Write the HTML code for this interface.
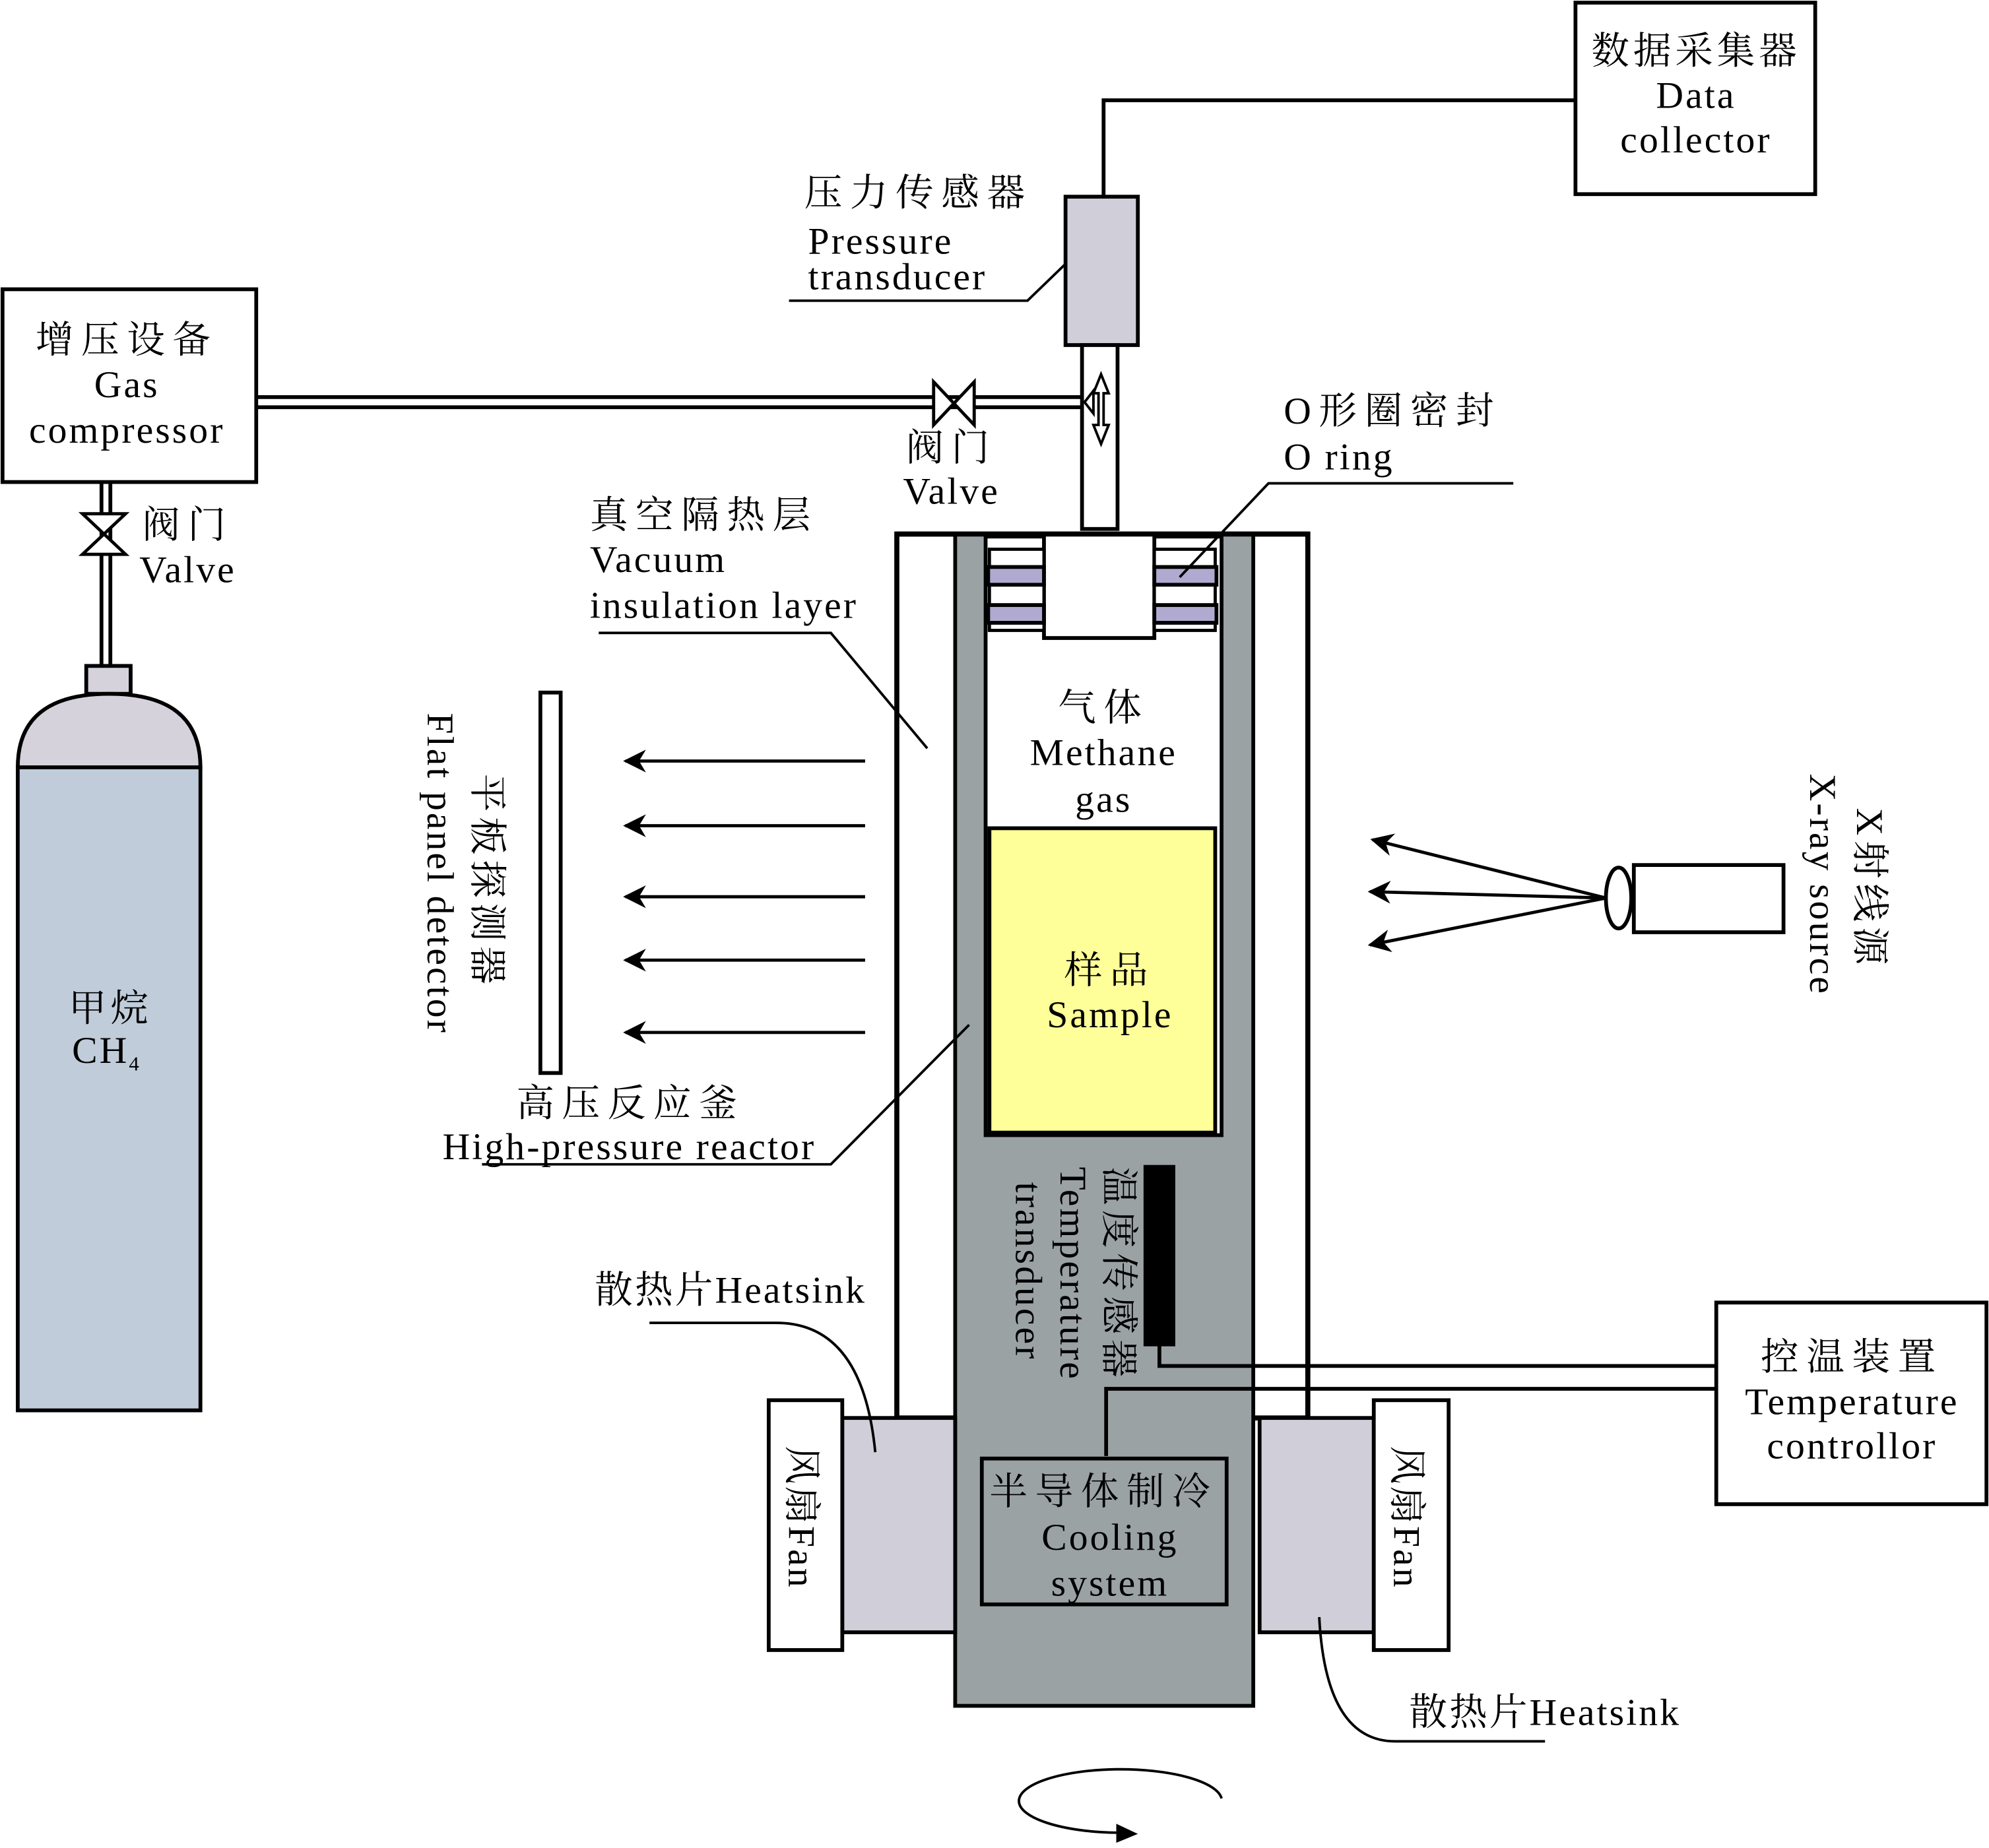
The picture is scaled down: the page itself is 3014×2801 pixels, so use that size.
<!DOCTYPE html>
<html><head><meta charset="utf-8"><style>html,body{margin:0;padding:0;background:#fff}svg{display:block}</style></head>
<body>
<svg width="3014" height="2801" viewBox="0 0 1568 1457" xmlns="http://www.w3.org/2000/svg" font-family="'Liberation Serif','Noto Serif CJK SC',serif" font-size="30" fill="none" stroke="#000" stroke-width="3">
<defs>
<marker id="ah" viewBox="0 0 10 10" refX="9" refY="5" markerWidth="24" markerHeight="18" orient="auto" markerUnits="userSpaceOnUse"><path d="M0,0 L10,5 L0,10 L3,5 z" fill="#000" stroke="none"/></marker>
</defs>
<rect x="1242" y="2" width="189" height="151" fill="#fff"/>
<polyline points="1242,79 870,79 870,155"/>
<rect x="840" y="155" width="57" height="117" fill="#d0ced9"/>
<polyline points="622,237 810,237 840,208" stroke-width="2"/>
<rect x="853" y="272" width="28" height="145" fill="#fff"/>
<path d="M868,295 L862,310 L866,310 L866,335 L862,335 L868,350 L874,335 L870,335 L870,310 L874,310 Z" fill="#fff" stroke-width="2"/>
<path d="M855,317 L862,308 L862,326 Z" fill="#fff" stroke-width="2"/>
<line x1="203" y1="313" x2="853" y2="313"/>
<line x1="203" y1="321" x2="853" y2="321"/>
<path d="M736,301 L768,335 L768,301 L736,335 Z" fill="#fff" stroke-width="2.5"/>
<rect x="2" y="228" width="200" height="152" fill="#fff"/>
<line x1="80" y1="380" x2="80" y2="525"/>
<line x1="87" y1="380" x2="87" y2="525"/>
<path d="M65,405 L99,437 L65,437 L99,405 Z" fill="#fff" stroke-width="2.5"/>
<rect x="68" y="525" width="35" height="22" fill="#d6d2dc"/>
<path d="M14,605 Q14,547 86,547 Q158,547 158,605 Z" fill="#d6d2dc"/>
<rect x="14" y="605" width="144" height="507" fill="#c0ccda"/>
<rect x="707" y="421" width="324" height="697" fill="#fff" stroke-width="4"/>
<rect x="753" y="421" width="235" height="924" fill="#9ba2a4" stroke-width="3"/>
<rect x="777" y="423" width="186" height="472" fill="#fff"/>
<rect x="780" y="653" width="178" height="240" fill="#ffff99" stroke-width="3"/>
<rect x="823" y="421" width="87" height="82" fill="#fff"/>
<rect x="780" y="433" width="43" height="64" fill="#fff" stroke-width="2.5"/>
<rect x="910" y="433" width="48" height="64" fill="#fff" stroke-width="2.5"/>
<rect x="779" y="447" width="44" height="14" fill="#b0aad0" stroke-width="3"/>
<rect x="779" y="477" width="44" height="14" fill="#b0aad0" stroke-width="3"/>
<rect x="910" y="447" width="49" height="14" fill="#b0aad0" stroke-width="3"/>
<rect x="910" y="477" width="49" height="14" fill="#b0aad0" stroke-width="3"/>
<line x1="707" y1="421" x2="1031" y2="421" stroke-width="4"/>
<rect x="664" y="1118" width="89" height="169" fill="#d0ced9"/>
<rect x="606" y="1104" width="58" height="197" fill="#fff"/>
<rect x="993" y="1118" width="90" height="169" fill="#d0ced9"/>
<rect x="1083" y="1104" width="59" height="197" fill="#fff"/>
<rect x="774" y="1150" width="193" height="115" fill="#9ba2a4"/>
<rect x="903" y="920" width="22" height="140" fill="#000"/>
<polyline points="914,1060 914,1077 1352,1077"/>
<polyline points="872,1148 872,1095 1352,1095"/>
<rect x="1353" y="1027" width="213" height="159" fill="#fff"/>
<rect x="426" y="546" width="16" height="300" fill="#fff"/>
<g marker-end="url(#ah)" stroke-width="2.5">
<line x1="682" y1="600" x2="493" y2="600"/>
<line x1="682" y1="651" x2="493" y2="651"/>
<line x1="682" y1="707" x2="493" y2="707"/>
<line x1="682" y1="757" x2="493" y2="757"/>
<line x1="682" y1="814" x2="493" y2="814"/>
<line x1="1266" y1="708" x2="1082" y2="662"/>
<line x1="1266" y1="708" x2="1080" y2="703"/>
<line x1="1266" y1="708" x2="1080" y2="745"/>
</g>
<rect x="1288" y="682" width="118" height="53" fill="#fff"/>
<ellipse cx="1276" cy="708" rx="10" ry="24" fill="#fff"/>
<g stroke-width="2">
<polyline points="1193,381 1000,381 930,455"/>
<polyline points="472,499 655,499 731,590"/>
<polyline points="380,918 655,918 764,808"/>
<path d="M512,1043 L612,1043 Q680,1043 690,1145"/>
<path d="M1218,1373 L1100,1373 Q1045,1373 1040,1275"/>
<path d="M963,1418 A80,25 0 1 0 880,1445" />
</g>
<path d="M880,1438 L897,1446 L880,1453 Z" fill="#000" stroke="none"/>
<g fill="#000" stroke="none" text-anchor="middle" letter-spacing="1.6">
<text x="1337" y="50" letter-spacing="3">数据采集器</text>
<text x="1337" y="85">Data</text>
<text x="1337" y="120">collector</text>
<text x="724" y="162" letter-spacing="6">压力传感器</text>
<text x="637" y="200" text-anchor="start">Pressure</text>
<text x="637" y="228" text-anchor="start">transducer</text>
<text x="100" y="278" letter-spacing="6">增压设备</text>
<text x="100" y="313">Gas</text>
<text x="100" y="349">compressor</text>
<text x="750" y="363" letter-spacing="6">阀门</text>
<text x="750" y="397">Valve</text>
<text x="148" y="424" letter-spacing="6">阀门</text>
<text x="148" y="459">Valve</text>
<text x="1012" y="334" text-anchor="start" letter-spacing="6">O形圈密封</text>
<text x="1012" y="370" text-anchor="start">O ring</text>
<text x="465" y="416" text-anchor="start" letter-spacing="6">真空隔热层</text>
<text x="465" y="451" text-anchor="start">Vacuum</text>
<text x="465" y="487" text-anchor="start">insulation layer</text>
<text x="870" y="568" letter-spacing="6">气体</text>
<text x="870" y="603">Methane</text>
<text x="870" y="640">gas</text>
<text x="875" y="775" letter-spacing="6">样品</text>
<text x="875" y="810">Sample</text>
<text x="87" y="805" letter-spacing="3">甲烷</text>
<text x="84" y="838">CH<tspan font-size="16" dy="6">4</tspan></text>
<text x="497" y="880" letter-spacing="6">高压反应釜</text>
<text x="496" y="914">High-pressure reactor</text>
<text x="576" y="1027">散热片Heatsink</text>
<text x="1218" y="1360">散热片Heatsink</text>
<text x="870" y="1186" letter-spacing="6">半导体制冷</text>
<text x="875" y="1222">Cooling</text>
<text x="875" y="1258">system</text>
<text x="1460" y="1080" letter-spacing="6">控温装置</text>
<text x="1460" y="1115">Temperature</text>
<text x="1460" y="1150">controllor</text>
</g>
<g fill="#000" stroke="none" letter-spacing="1.6">
<text transform="translate(374,610) rotate(90)" letter-spacing="4">平板探测器</text>
<text transform="translate(337,562) rotate(90)">Flat panel detector</text>
<text transform="translate(1464,637) rotate(90)" letter-spacing="4">X射线源</text>
<text transform="translate(1427,610) rotate(90)">X-ray source</text>
<text transform="translate(872,920) rotate(90)" letter-spacing="4">温度传感器</text>
<text transform="translate(836,920) rotate(90)">Temperature</text>
<text transform="translate(801,932) rotate(90)">transducer</text>
<text transform="translate(622,1140) rotate(90)">风扇Fan</text>
<text transform="translate(1099,1140) rotate(90)">风扇Fan</text>
</g>
</svg>
</body></html>
